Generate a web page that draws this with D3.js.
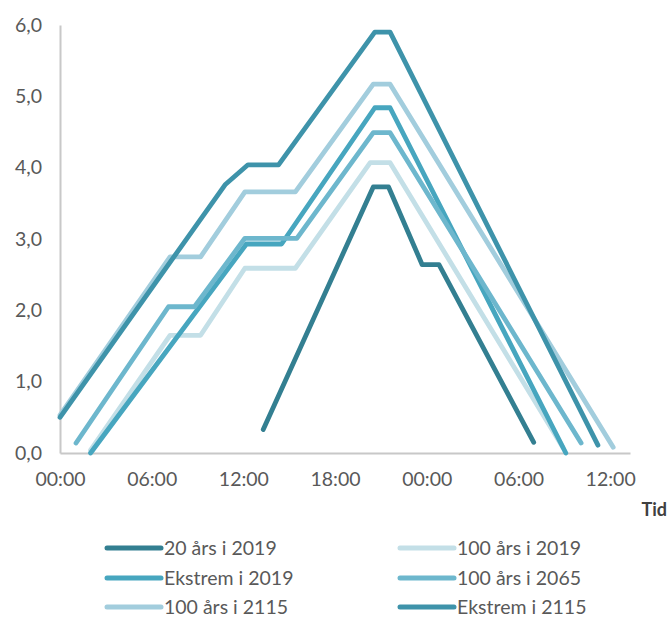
<!DOCTYPE html>
<html><head><meta charset="utf-8">
<script src="https://cdn.jsdelivr.net/npm/d3@7"></script>
<style>body{margin:0;background:#fff}svg{display:block}</style>
</head><body>
<script>
// hours since start, value
const seriesNames = ["20 års i 2019","100 års i 2019","Ekstrem i 2019","100 års i 2065","100 års i 2115","Ekstrem i 2115"];
const colors = ["#337f91","#c3dfe7","#47a6bf","#6db7cd","#a2cddd","#3e93aa"];
const s20_2019 = [[13.3,0.33],[20.5,3.73],[21.5,3.73],[23.7,2.64],[24.8,2.64],[31.0,0.15]];
const s100_2019 = [[2.0,0.04],[7.2,1.65],[9.2,1.65],[12.1,2.59],[15.4,2.59],[20.3,4.07],[21.6,4.07],[32.9,0.08]];
const sEks_2019 = [[2.0,0.0],[12.2,2.93],[14.5,2.93],[20.6,4.84],[21.6,4.84],[33.1,0.0]];
const s100_2065 = [[1.05,0.14],[7.1,2.05],[8.8,2.05],[12.1,3.01],[15.5,3.01],[20.5,4.49],[21.6,4.49],[34.1,0.14]];
const s100_2115 = [[0,0.53],[7.2,2.75],[9.2,2.75],[12.1,3.66],[15.4,3.66],[20.5,5.17],[21.6,5.17],[36.2,0.08]];
const sEks_2115 = [[0,0.5],[10.8,3.76],[12.3,4.04],[14.3,4.04],[20.6,5.9],[21.6,5.9],[35.2,0.11]];
const seriesData = [s20_2019,s100_2019,sEks_2019,s100_2065,s100_2115,sEks_2115];
const xTicks = [0,6,12,18,24,30,36];
const xTickLabels = ["00:00","06:00","12:00","18:00","00:00","06:00","12:00"];
const yTicks = [0,1,2,3,4,5,6];

const W=668,H=619;
const svg=d3.select("body").append("svg").attr("width",W).attr("height",H);
const x=d3.scaleLinear().domain([0,37.3]).range([60,630]);
const y=d3.scaleLinear().domain([0,6]).range([453,25]);
const font="Lato, 'Open Sans', sans-serif";
const fs=19.5;

// axes
const xAxis=svg.append("g").attr("transform","translate(0,453)")
  .call(d3.axisBottom(x).tickValues(xTicks).tickFormat((d,i)=>xTickLabels[i]).tickSize(0).tickPadding(19));
xAxis.select(".domain").attr("stroke","#c8c8c8").attr("stroke-width",2);
xAxis.selectAll("text").attr("font-family",font).attr("font-size",fs).attr("fill","#595959");

const yAxis=svg.append("g").attr("transform","translate(60,0)")
  .call(d3.axisLeft(y).tickValues(yTicks).tickFormat(d=>d3.format(".1f")(d).replace(".",",")).tickSize(0).tickPadding(18));
yAxis.select(".domain").attr("stroke","#c8c8c8").attr("stroke-width",2);
yAxis.selectAll("text").attr("font-family",font).attr("font-size",fs).attr("fill","#595959");

svg.append("text").attr("x",667).attr("y",516).attr("text-anchor","end")
  .attr("font-family",font).attr("font-weight","bold").attr("font-size",18).attr("fill","#404040").text("Tid");

const line=d3.line().x(d=>x(d[0])).y(d=>y(d[1]));
seriesData.forEach((s,i)=>{
  svg.append("path").datum(s).attr("d",line).attr("fill","none")
    .attr("stroke",colors[i]).attr("stroke-width",4.8)
    .attr("stroke-linecap","round").attr("stroke-linejoin","round");
});

// legend
const legX=[107,400], legY=[548,578,607];
seriesNames.forEach((n,i)=>{
  const cx=legX[i%2], cy=legY[Math.floor(i/2)];
  const g=svg.append("g");
  g.append("line").attr("x1",cx).attr("x2",cx+54).attr("y1",cy).attr("y2",cy)
    .attr("stroke",colors[i]).attr("stroke-width",5).attr("stroke-linecap","round");
  g.append("text").attr("x",cx+57).attr("y",cy).attr("dy","0.35em")
    .attr("font-family",font).attr("font-size",fs).attr("fill","#595959").text(n);
});
</script>
</body></html>
